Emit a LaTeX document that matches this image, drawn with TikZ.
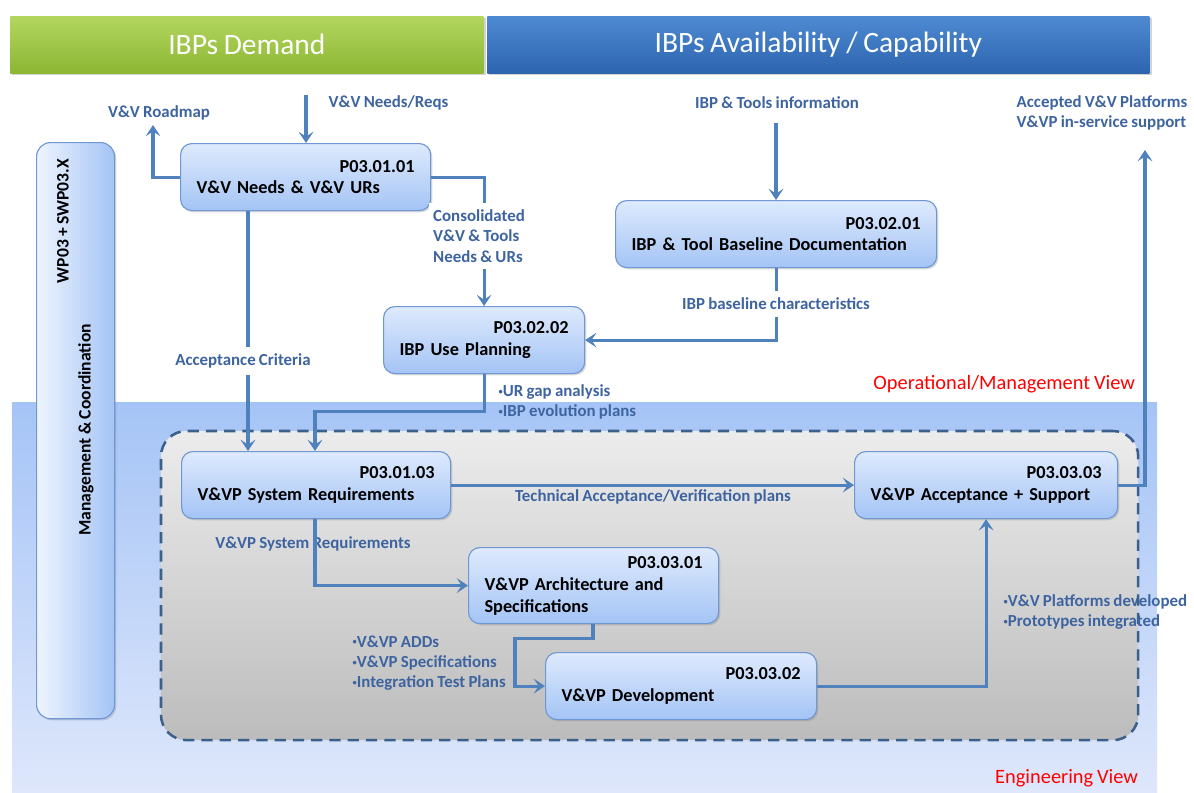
\documentclass[tikz,border=0pt]{standalone}
\usepackage{fontspec}
\setmainfont{Carlito}[WordSpace=0.85]
\usetikzlibrary{arrows.meta, calc, fit, shadows, backgrounds}
\definecolor{flowblue}{RGB}{79,129,189}
\definecolor{lblblue}{RGB}{62,100,160}
\definecolor{boxtop}{RGB}{222,234,253}
\definecolor{boxbot}{RGB}{164,196,245}
\definecolor{boxline}{RGB}{111,151,211}
\definecolor{demtop}{RGB}{178,214,94}
\definecolor{dembot}{RGB}{140,182,52}
\definecolor{avltop}{RGB}{78,138,210}
\definecolor{avlbot}{RGB}{45,100,175}
\definecolor{bandtop}{RGB}{165,196,246}
\definecolor{bandbot}{RGB}{222,231,251}
\definecolor{engtop}{RGB}{236,236,236}
\definecolor{engbot}{RGB}{188,188,188}
\definecolor{engline}{RGB}{60,96,140}
\newcommand\pid[1]{\hskip 0pt plus 1filll #1}
\newcommand\itm{\raisebox{0.28ex}{\fontsize{6}{6}\selectfont\textbullet}}

\begin{document}
\begin{tikzpicture}[x=0.025cm, y=-0.025cm,
    descr/.style={fill=white, inner xsep=3pt, inner ysep=5pt}]
    \tikzset{
      procbox/.style={
        draw=boxline, line width=0.8pt, rounded corners=8pt,
        top color=boxtop, bottom color=boxbot,
        drop shadow={opacity=0.3, shadow xshift=1.2pt, shadow yshift=-1.2pt},
        anchor=north west, align=left, text width=#1,
        inner xsep=0.4cm, inner ysep=0pt, minimum height=1.675cm,
        font=\bfseries\fontsize{13}{15.6}\selectfont,
      },
      banner/.style={
        anchor=north west, minimum height=1.425cm, inner sep=0pt,
        text=white, font=\fontsize{21}{25}\selectfont,
        drop shadow={opacity=0.35, shadow xshift=1.5pt, shadow yshift=-1.5pt},
      },
      mgmtbox/.style={
        anchor=north west, minimum width=1.95cm, minimum height=14.4cm,
        draw=boxline, line width=0.8pt, rounded corners=10pt,
        left color=boxtop!50!white, right color=boxbot,
        drop shadow={opacity=0.3, shadow xshift=1.2pt, shadow yshift=-1.2pt},
      },
      mgmttxt/.style={rotate=90, font=\bfseries\fontsize{12.5}{15}\selectfont},
      engbox/.style={
        draw=engline, line width=1.8pt, dash pattern=on 8pt off 5pt,
        rounded corners=18pt, top color=engtop, bottom color=engbot,
        inner sep=0.5cm,
      },
      flow/.style={draw=flowblue, line width=2.2pt,
        -{Stealth[length=8pt, width=10.5pt, inset=3.5pt]}},
      lbl/.style={text=lblblue, inner sep=1pt, align=left,
        font=\bfseries\fontsize{12}{14.5}\selectfont},
      viewlbl/.style={text=red, anchor=east,
        font=\fontsize{14.5}{17}\selectfont},
    }
    \useasboundingbox (0,0) rectangle (1194,792);

    % headers
    \node[banner, top color=demtop, bottom color=dembot, minimum width=11.825cm]
        (demand) at (10,16) {IBPs Demand};
    \node[banner, top color=avltop, bottom color=avlbot, minimum width=16.55cm]
        (avail) at (487,16) {IBPs Availability / Capability};

    % processes
    \node[procbox=5.45cm] (needs) at (180,143)
        {\pid{P03.01.01}\\V\&V Needs \& V\&V URs};
    \node[procbox=7.225cm] (baseline) at (615,200)
        {\pid{P03.02.01}\\IBP \& Tool Baseline Documentation};
    \node[procbox=4.225cm] (useplan) at (383,306)
        {\pid{P03.02.02}\\IBP Use Planning};
    \node[procbox=5.925cm] (sysreq) at (181,451)
        {\pid{P03.01.03}\\V\&VP System Requirements};
    \node[procbox=5.45cm, minimum height=1.9cm] (archspec) at (468,547)
        {\pid{P03.03.01}\\V\&VP Architecture and\\Specifications};
    \node[procbox=5.975cm] (devel) at (545,652)
        {\pid{P03.03.02}\\V\&VP Development};
    \node[procbox=5.775cm] (accept) at (854,451)
        {\pid{P03.03.03}\\V\&VP Acceptance + Support};

    % views
    \begin{scope}[on background layer]
      \shade[top color=bandtop, bottom color=bandbot] (12,402) rectangle (1157,792);
      \node[engbox, fit=(sysreq) (devel) (accept)] (engarea) {};
    \end{scope}
    \node[viewlbl] (opview) at (1140,384) {Operational/Management View};
    \node[viewlbl] (engview) at (1143,778) {Engineering View};

    \node[mgmtbox] (mgmt) at (36,142) {};
    \node[mgmttxt] (wptxt) at (63,221) {WP03 + SWP03.X};
    \node[mgmttxt] (coordtxt) at (86,430) {Management \& Coordination};

    % demand side
    \coordinate (needsin) at (306,95);
    \draw[flow] (needsin) -- (needsin |- needs.north);
    \node[lbl, anchor=west] (needslbl) at (327,103) {V\&V Needs/Reqs};
    \coordinate (roadmapout) at (153,125);
    \draw[flow] (needs.west) -| (roadmapout);
    \node[lbl] (roadmaplbl) at (159,113) {V\&V Roadmap};
    \draw[flow] (needs.east) -| (useplan.north);
    \node[lbl, descr] (conslbl) at (479,236)
        {Consolidated\\V\&V \& Tools\\Needs \& URs};
    \coordinate (accin) at ($(needs.south west)+(68,0)$);
    \draw[flow] (accin) -- (accin |- sysreq.north);
    \node[lbl, descr] (acclbl) at (243,361) {Acceptance Criteria};

    % availability side
    \coordinate (toolsin) at (776,123);
    \draw[flow] (toolsin) -- (toolsin |- baseline.north);
    \node[lbl] (toolslbl) at (777,103) {IBP \& Tools information};
    \draw[flow] (baseline.south) |- (useplan.east);
    \node[lbl, descr] (charlbl) at (776,304) {IBP baseline characteristics};
    \coordinate (sysin) at ($(sysreq.north west)+(134,0)$);
    \draw[flow] (useplan.south) -- ++(0,37) -| (sysin);
    \node[lbl, anchor=west] (gaplbl) at (497,402)
        {\itm UR gap analysis\\\itm IBP evolution plans};

    % engineering
    \draw[flow] (sysreq.east) -- (accept.west);
    \node[lbl] (techlbl) at (653,497) {Technical Acceptance/Verification plans};
    \node[lbl] (sysreqlbl) at (313,544) {V\&VP System Requirements};
    \coordinate (sysout) at ($(sysreq.south west)+(134,0)$);
    \draw[flow] (sysout) |- (archspec.west);
    \coordinate (archout) at ($(archspec.south west)+(125,0)$);
    \coordinate (devbend) at ($(devel.west)+(-30,0)$);
    \draw[flow] (archout) -- ++(0,14) -| (devbend) -- (devel.west);
    \node[lbl, anchor=west] (speclbl) at (351,663)
        {\itm V\&VP ADDs\\\itm V\&VP Specifications\\\itm Integration Test Plans};
    \draw[flow] (devel.east) -| (accept.south);
    \node[lbl, anchor=west] (platlbl) at (1002,612)
        {\itm V\&V Platforms developed\\\itm Prototypes integrated};
    \coordinate (acceptout) at (1145,150);
    \draw[flow] (accept.east) -| (acceptout);
    \node[lbl, anchor=west] (outlbl) at (1015,113)
        {Accepted V\&V Platforms\\V\&VP in-service support};
\end{tikzpicture}
\end{document}
